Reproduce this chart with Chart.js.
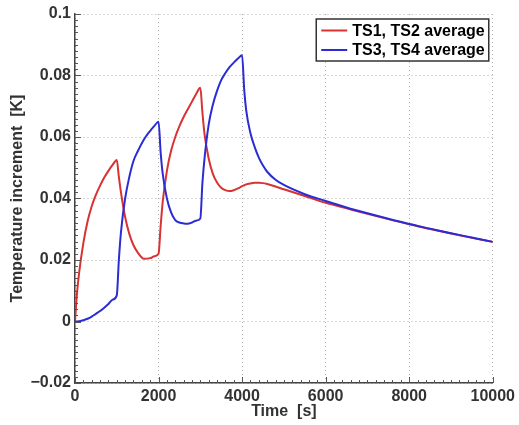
<!DOCTYPE html>
<html>
<head>
<meta charset="utf-8">
<script src="https://cdn.jsdelivr.net/npm/chart.js@4/dist/chart.umd.min.js"></script>
<style>
    html, body { margin: 0; padding: 0; background: #fff; }
    #wrap { width: 519px; height: 425px; }
</style>
</head>
<body>
<div id="wrap"><canvas id="tempChart" width="519" height="425"></canvas></div>
<script>
// time axis (s), shared by both series
var times = [0, 50, 100, 200, 300, 400, 500, 600, 700, 800, 900, 1000,
    1050, 1100, 1200, 1300, 1400, 1500, 1650, 1800, 1900, 2000,
    2050, 2100, 2200, 2300, 2400, 2500, 2600, 2700, 2800, 2900, 3000,
    3050, 3100, 3200, 3300, 3400, 3500, 3600, 3700, 3800, 3900, 4000,
    4050, 4100, 4200, 4300, 4400, 4500, 4600, 4800, 5000, 5500, 6000,
    6500, 7000, 7500, 8000, 8500, 9000, 9500, 10000];

// TS1, TS2 average (K)
var ts12 = [0, 0.0095, 0.016, 0.0255, 0.0325, 0.0375, 0.0412, 0.0442, 0.0468, 0.049, 0.0509, 0.0525,
    0.047, 0.042, 0.034, 0.0285, 0.0248, 0.0225, 0.0204, 0.0206, 0.0212, 0.022,
    0.031, 0.039, 0.049, 0.0555, 0.060, 0.0635, 0.0665, 0.069, 0.0715, 0.074, 0.076,
    0.068, 0.061, 0.053, 0.048, 0.0452, 0.0435, 0.0427, 0.0424, 0.0427, 0.0433, 0.044,
    0.0443, 0.0446, 0.0449, 0.0451, 0.0451, 0.045, 0.0447, 0.0439, 0.043, 0.0408, 0.0386,
    0.0368, 0.035, 0.0333, 0.0316, 0.0301, 0.0286, 0.0272, 0.0259];

// TS3, TS4 average (K)
var ts34 = [0, 0.00003, 0.0001, 0.0004, 0.0009, 0.0016, 0.0025, 0.0034, 0.0045, 0.0057, 0.0071, 0.0085,
    0.020, 0.029, 0.040, 0.047, 0.0522, 0.0553, 0.0592, 0.062, 0.0636, 0.065,
    0.055, 0.048, 0.040, 0.0355, 0.033, 0.0322, 0.0319, 0.0318, 0.0322, 0.0328, 0.0335,
    0.045, 0.053, 0.064, 0.0705, 0.075, 0.0785, 0.0808, 0.0827, 0.0842, 0.0855, 0.0866,
    0.0755, 0.0685, 0.0612, 0.0568, 0.0533, 0.0507, 0.0487, 0.0461, 0.0444, 0.0414, 0.0392,
    0.0371, 0.0352, 0.0334, 0.0317, 0.0302, 0.0287, 0.0273, 0.0259];

var seriesNames = ['TS1, TS2 average', 'TS3, TS4 average'];
var xTicks = [0, 2000, 4000, 6000, 8000, 10000];
var yTicks = [-0.02, 0, 0.02, 0.04, 0.06, 0.08, 0.1];

var FONT = "'Liberation Sans', Arial, Helvetica, sans-serif";

function toPoints(xs, ys) {
    return xs.map(function (x, i) { return { x: x, y: ys[i] }; });
}

function fmtY(v) {
    var r = Math.round(v * 1000) / 1000;
    return String(r).replace('-', '\u2212');
}

// matlab-ish inward ticks on the left and bottom axes
var axisTicks = {
    id: 'axisTicks',
    afterDraw: function (chart) {
        var ctx = chart.ctx, x = chart.scales.x, y = chart.scales.y;
        var a = chart.chartArea;
        ctx.save();
        ctx.strokeStyle = '#555';
        ctx.lineWidth = 1;
        ctx.beginPath();
        for (var v = -0.02; v <= 0.1001; v += 0.002) {
            var py = Math.round(y.getPixelForValue(v)) + 0.5;
            var major = Math.abs(v / 0.02 - Math.round(v / 0.02)) < 1e-6;
            ctx.moveTo(a.left, py);
            ctx.lineTo(a.left + (major ? 6 : 3), py);
        }
        for (var t = 0; t <= 10000; t += 200) {
            var px = Math.round(x.getPixelForValue(t)) + 0.5;
            ctx.moveTo(px, a.bottom);
            ctx.lineTo(px, a.bottom - (t % 2000 === 0 ? 6 : 3));
        }
        ctx.stroke();
        ctx.restore();
    }
};

// boxed legend inside the top right corner
var boxLegend = {
    id: 'boxLegend',
    afterDraw: function (chart) {
        var ctx = chart.ctx, a = chart.chartArea;
        var sets = chart.data.datasets;
        ctx.save();
        ctx.font = 'bold 16px ' + FONT;
        var tw = 0;
        sets.forEach(function (d) { tw = Math.max(tw, ctx.measureText(d.label).width); });
        var w = tw + 40, h = 42;
        var left = a.right - 4 - w, top = a.top + 5;
        ctx.fillStyle = '#fff';
        ctx.fillRect(left, top, w, h);
        ctx.strokeStyle = '#333';
        ctx.lineWidth = 1.5;
        ctx.strokeRect(left, top, w, h);
        sets.forEach(function (d, i) {
            var cy = top + 11.5 + i * 19.5;
            ctx.strokeStyle = d.borderColor;
            ctx.lineWidth = 2;
            ctx.beginPath();
            ctx.moveTo(left + 5, cy);
            ctx.lineTo(left + 31, cy);
            ctx.stroke();
            ctx.fillStyle = '#000';
            ctx.textBaseline = 'middle';
            ctx.fillText(d.label, left + 36, cy + 1);
        });
        ctx.restore();
    }
};

document.addEventListener('DOMContentLoaded', function () {
    var canvas = document.getElementById('tempChart');
    if (!canvas || typeof Chart === 'undefined') {
        return;
    }

    var tickFont = { family: FONT, size: 16, weight: 'bold' };

    new Chart(canvas, {
        type: 'line',
        data: {
            datasets: [
                { label: seriesNames[0], data: toPoints(times, ts12), borderColor: '#d83232', borderWidth: 2, order: 1 },
                { label: seriesNames[1], data: toPoints(times, ts34), borderColor: '#2c2cd4', borderWidth: 2, order: 0 }
            ]
        },
        options: {
            responsive: false,
            animation: false,
            parsing: false,
            layout: { padding: { top: 14, right: 24, bottom: 0, left: 0 } },
            elements: {
                point: { radius: 0 },
                line: { cubicInterpolationMode: 'monotone', fill: false }
            },
            plugins: {
                legend: { display: false },
                tooltip: { enabled: false }
            },
            scales: {
                x: {
                    type: 'linear',
                    min: 0,
                    max: 10000,
                    afterBuildTicks: function (s) { s.ticks = xTicks.map(function (v) { return { value: v }; }); },
                    afterFit: function (s) { s.height = 42; },
                    ticks: { font: tickFont, color: '#333', padding: 4, maxRotation: 0, callback: function (v) { return String(v); } },
                    grid: { color: '#b0b0b0', lineWidth: 1, drawTicks: false },
                    border: { display: true, color: '#444', width: 1.5, dash: [1, 3] },
                    title: { display: true, text: 'Time  [s]', font: tickFont, color: '#333', padding: { top: 0, bottom: 4 } }
                },
                y: {
                    type: 'linear',
                    min: -0.02,
                    max: 0.1,
                    afterBuildTicks: function (s) { s.ticks = yTicks.map(function (v) { return { value: v }; }); },
                    afterFit: function (s) { s.width = 75; },
                    ticks: { font: tickFont, color: '#333', padding: 4, callback: fmtY },
                    grid: { color: '#b0b0b0', lineWidth: 1, drawTicks: false },
                    border: { display: true, color: '#444', width: 1.5, dash: [1, 3] },
                    title: { display: true, text: 'Temperature increment  [K]', font: tickFont, color: '#333', padding: { top: 8, bottom: 0 } }
                }
            }
        },
        plugins: [axisTicks, boxLegend]
    });
});
</script>
</body>
</html>
